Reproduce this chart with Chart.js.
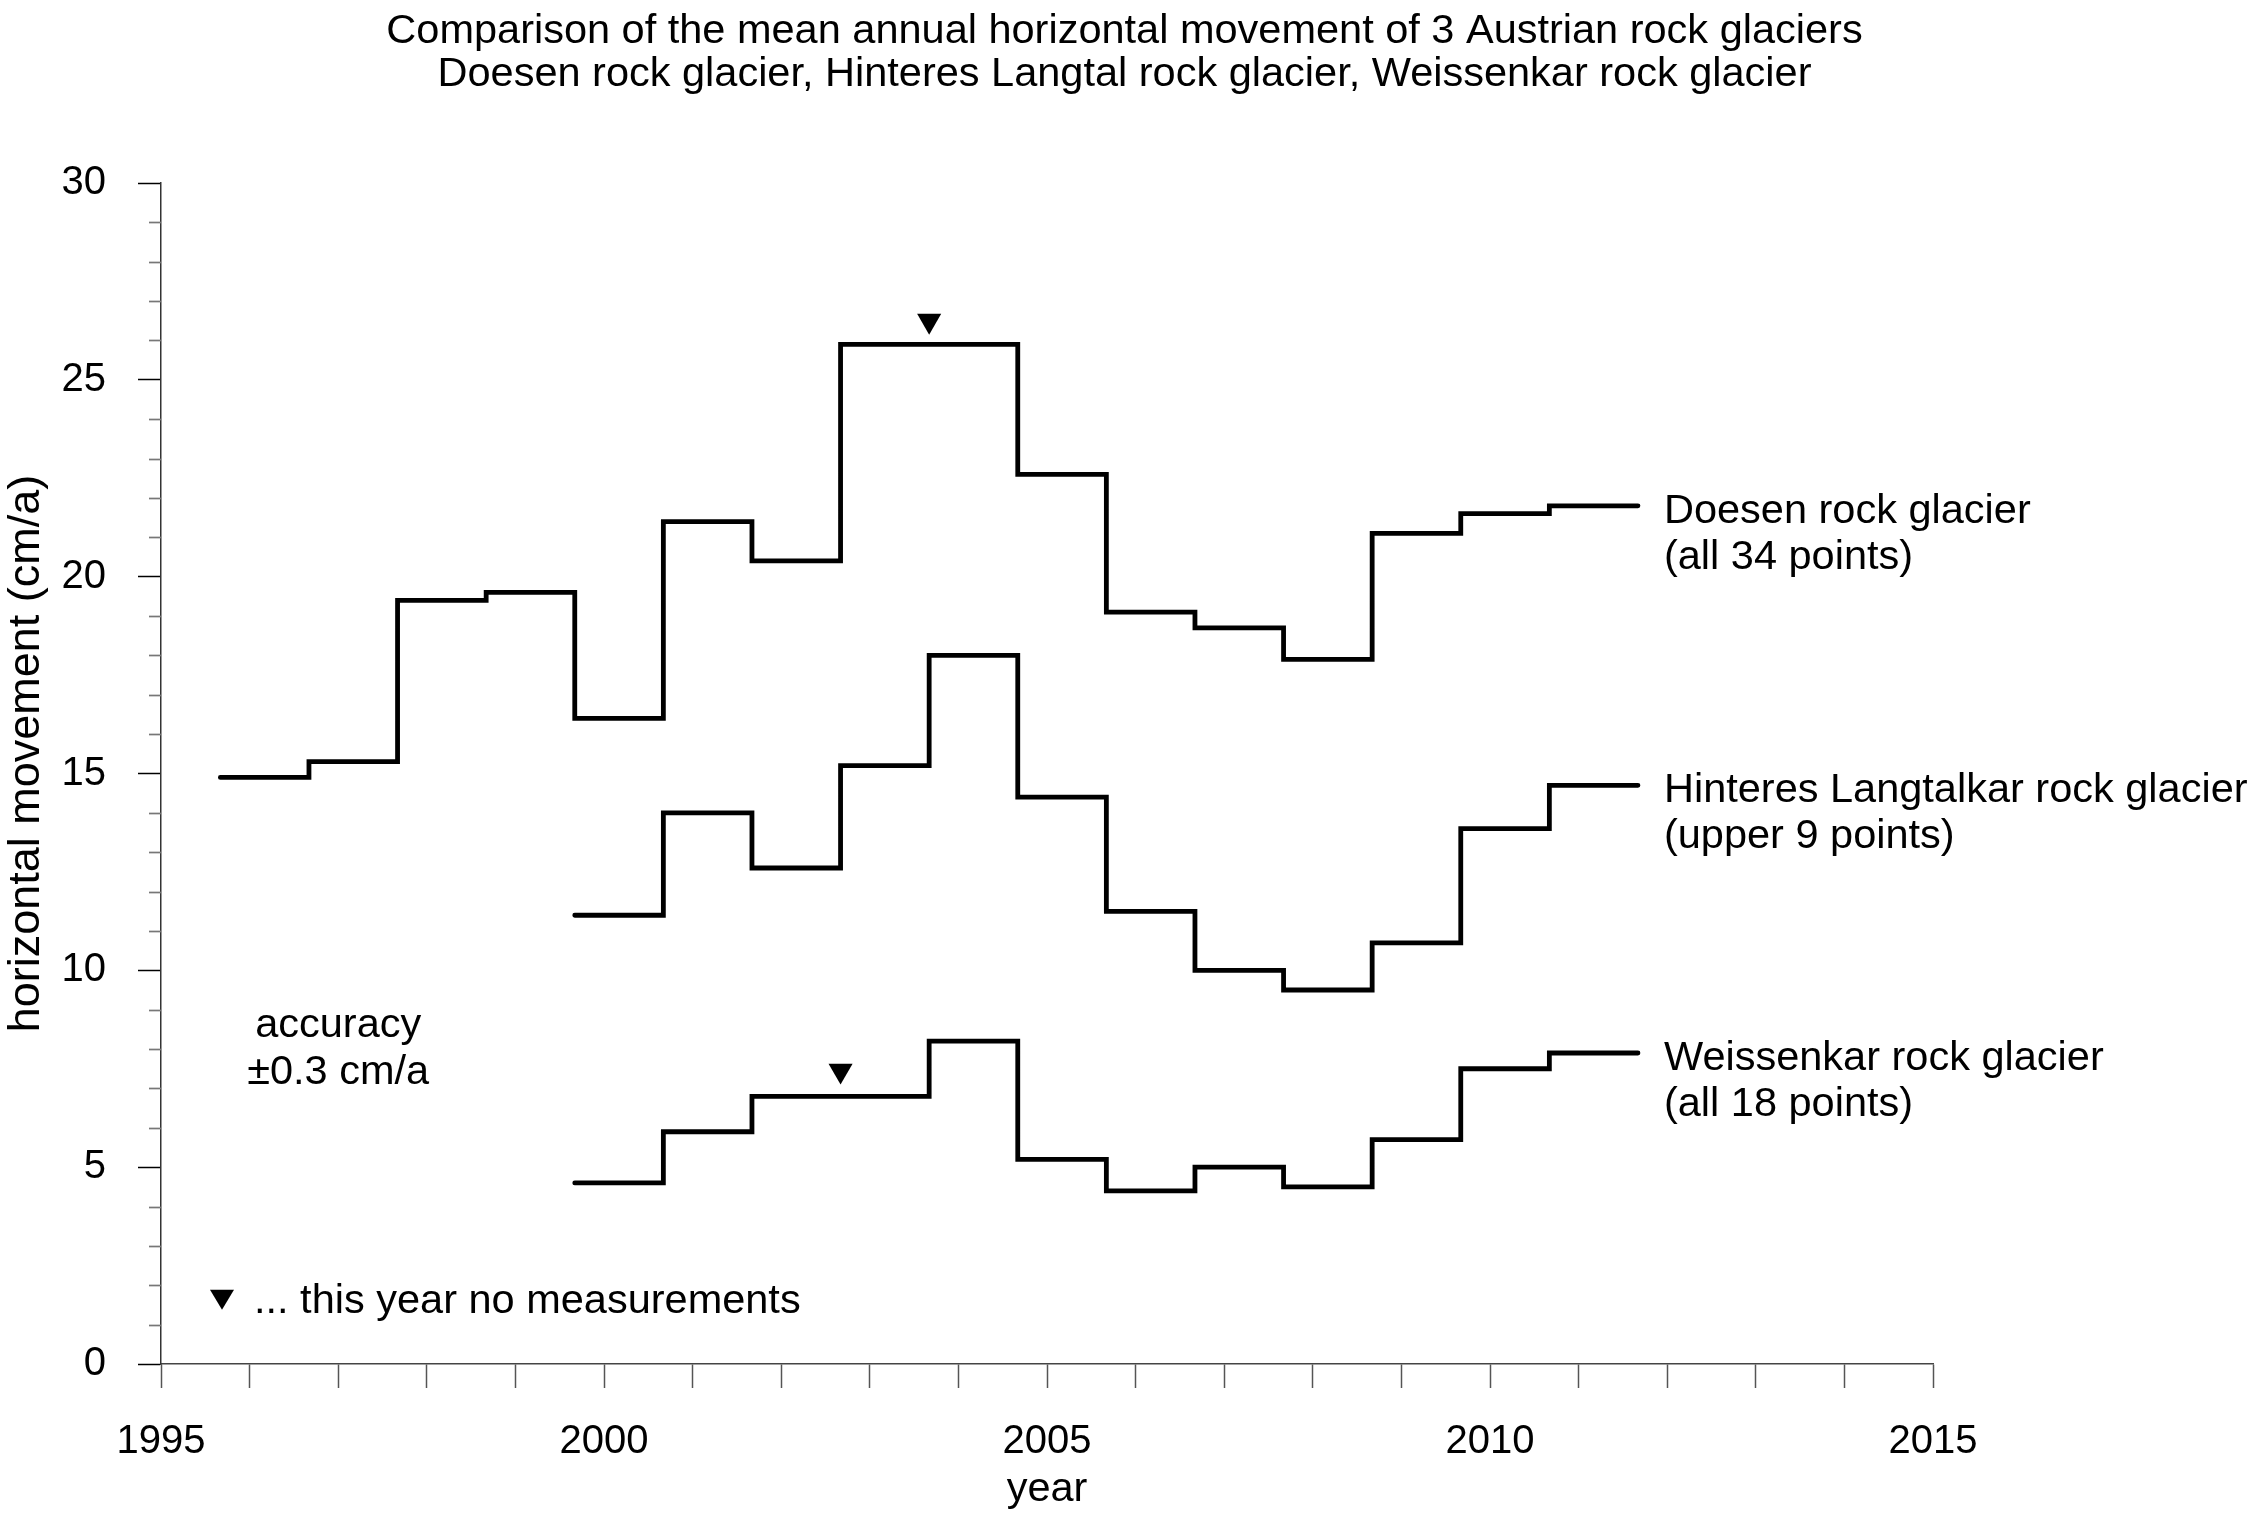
<!DOCTYPE html>
<html>
<head>
<meta charset="utf-8">
<script src="https://cdn.jsdelivr.net/npm/chart.js@4.4.0/dist/chart.umd.min.js"></script>
<style>
  html, body { margin: 0; padding: 0; background: #fff; }
</style>
</head>
<body>
<canvas id="chart" width="2249" height="1514"></canvas>
<script>
// each value holds from its start date (late summer) to the next one
const doesenEdges = [1995.67, 1996.67, 1997.67, 1998.67, 1999.67, 2000.67, 2001.67, 2002.67, 2004.67, 2005.67, 2006.67, 2007.67, 2008.67, 2009.67, 2010.67, 2011.67];
const doesenValues = [14.9, 15.3, 19.4, 19.6, 16.4, 21.4, 20.4, 25.9, 22.6, 19.1, 18.7, 17.9, 21.1, 21.6, 21.8];

const langtalEdges = [1999.67, 2000.67, 2001.67, 2002.67, 2003.67, 2004.67, 2005.67, 2006.67, 2007.67, 2008.67, 2009.67, 2010.67, 2011.67];
const langtalValues = [11.4, 14.0, 12.6, 15.2, 18.0, 14.4, 11.5, 10.0, 9.5, 10.7, 13.6, 14.7];

const weissenkarEdges = [1999.67, 2000.67, 2001.67, 2003.67, 2004.67, 2005.67, 2006.67, 2007.67, 2008.67, 2009.67, 2010.67, 2011.67];
const weissenkarValues = [4.6, 5.9, 6.8, 8.2, 5.2, 4.4, 5.0, 4.5, 5.7, 7.5, 7.9];

// years without measurements (marker drawn above the step)
const noMeasureYears = [2003.67, 2002.67];
const noMeasureValues = [26.5, 7.45];

const seriesLabels = [
  ['Doesen rock glacier', '(all 34 points)'],
  ['Hinteres Langtalkar rock glacier', '(upper 9 points)'],
  ['Weissenkar rock glacier', '(all 18 points)']
];

const titleLines = [
  'Comparison of the mean annual horizontal movement of 3 Austrian rock glaciers',
  'Doesen rock glacier, Hinteres Langtal rock glacier, Weissenkar rock glacier'
];
const yTitle = 'horizontal movement (cm/a)';

const FONT = "'Liberation Sans', Arial, sans-serif";
Chart.defaults.font.family = FONT;
Chart.defaults.color = '#000';

const toSteps = (edges, values) =>
  edges.map((x, i) => ({ x, y: values[Math.min(i, values.length - 1)] }));

const stepLine = (edges, values) => ({
  type: 'line',
  data: toSteps(edges, values),
  stepped: 'before',
  borderColor: '#000',
  borderWidth: 4.8,
  borderCapStyle: 'round',
  borderJoinStyle: 'miter',
  pointRadius: 0,
  fill: false
});

const annotations = {
  id: 'annotations',
  afterDraw(chart) {
    const { ctx, scales: { x, y }, chartArea } = chart;
    ctx.save();

    // minor ticks on the y axis
    ctx.strokeStyle = '#777';
    ctx.lineWidth = 1.7;
    for (let v = 0; v <= 30; v++) {
      if (v % 5 === 0) continue;
      const py = Math.round(y.getPixelForValue(v)) + 0.5;
      ctx.beginPath();
      ctx.moveTo(chartArea.left - 12, py);
      ctx.lineTo(chartArea.left, py);
      ctx.stroke();
    }

    ctx.fillStyle = '#000';

    // y axis title
    ctx.save();
    ctx.font = '45px ' + FONT;
    ctx.textAlign = 'center';
    ctx.textBaseline = 'middle';
    ctx.translate(27, (chartArea.top + chartArea.bottom) / 2 - 20);
    ctx.rotate(-Math.PI / 2);
    ctx.fillText(yTitle, 0, 0);
    ctx.restore();

    ctx.font = '41.5px ' + FONT;
    ctx.textBaseline = 'alphabetic';

    // labels at the line ends
    const series = [
      [doesenEdges, doesenValues],
      [langtalEdges, langtalValues],
      [weissenkarEdges, weissenkarValues]
    ];
    ctx.textAlign = 'left';
    series.forEach(([edges, values], i) => {
      const ex = x.getPixelForValue(edges[edges.length - 1]) + 26;
      const ey = y.getPixelForValue(values[values.length - 1]) + 17;
      ctx.fillText(seriesLabels[i][0], ex, ey);
      ctx.fillText(seriesLabels[i][1], ex, ey + 46);
    });

    // accuracy note
    ctx.textAlign = 'center';
    const ax = x.getPixelForValue(1997);
    const ay = y.getPixelForValue(8.3);
    ctx.fillText('accuracy', ax, ay);
    ctx.fillText('\u00b10.3 cm/a', ax, ay + 47);

    // marker legend
    const lx = chartArea.left + 61;
    const ly = y.getPixelForValue(1.3);
    ctx.beginPath();
    ctx.moveTo(lx - 12, ly - 23);
    ctx.lineTo(lx + 12, ly - 23);
    ctx.lineTo(lx, ly - 3);
    ctx.closePath();
    ctx.fill();
    ctx.textAlign = 'left';
    ctx.fillText('... this year no measurements', lx + 32, ly);

    ctx.restore();
  }
};

new Chart(document.getElementById('chart'), {
  data: {
    datasets: [
      stepLine(doesenEdges, doesenValues),
      stepLine(langtalEdges, langtalValues),
      stepLine(weissenkarEdges, weissenkarValues),
      {
        type: 'scatter',
        data: noMeasureYears.map((x, i) => ({ x, y: noMeasureValues[i] })),
        pointStyle: 'triangle',
        rotation: 180,
        pointRadius: 13.9,
        backgroundColor: '#000',
        borderWidth: 0
      }
    ]
  },
  options: {
    responsive: false,
    animation: false,
    layout: { padding: 0 },
    plugins: {
      legend: { display: false },
      tooltip: { enabled: false },
      title: {
        display: true,
        text: titleLines,
        color: '#000',
        font: { size: 41.5, weight: 'normal', lineHeight: 1.04 },
        padding: { top: 10, bottom: 86.7 }
      }
    },
    scales: {
      x: {
        type: 'linear',
        min: 1995,
        max: 2015,
        ticks: {
          stepSize: 1,
          autoSkip: false,
          maxRotation: 0,
          padding: 30,
          font: { size: 40 },
          callback: v => (Math.round(v) % 5 === 0 ? String(Math.round(v)) : '')
        },
        grid: { drawOnChartArea: false, tickLength: 24, tickColor: '#555', tickWidth: 1.5 },
        border: { color: '#444', width: 1.5 },
        title: { display: true, text: 'year', font: { size: 41.5 }, padding: { top: 0, bottom: 0 } },
        afterFit: s => { s.height = 150; }
      },
      y: {
        type: 'linear',
        min: 0,
        max: 30,
        ticks: { stepSize: 5, padding: 32, font: { size: 40 } },
        grid: { drawOnChartArea: false, tickLength: 23, tickColor: '#000', tickWidth: 1.5 },
        border: { color: '#333', width: 1.5 },
        afterFit: s => { s.width = 161; }
      },
      // empty axis that only reserves the room for the line labels
      right: {
        type: 'linear',
        position: 'right',
        grid: { display: false },
        ticks: { display: false },
        border: { display: false },
        afterFit: s => { s.width = 316; }
      }
    }
  },
  plugins: [annotations]
});
</script>
</body>
</html>
